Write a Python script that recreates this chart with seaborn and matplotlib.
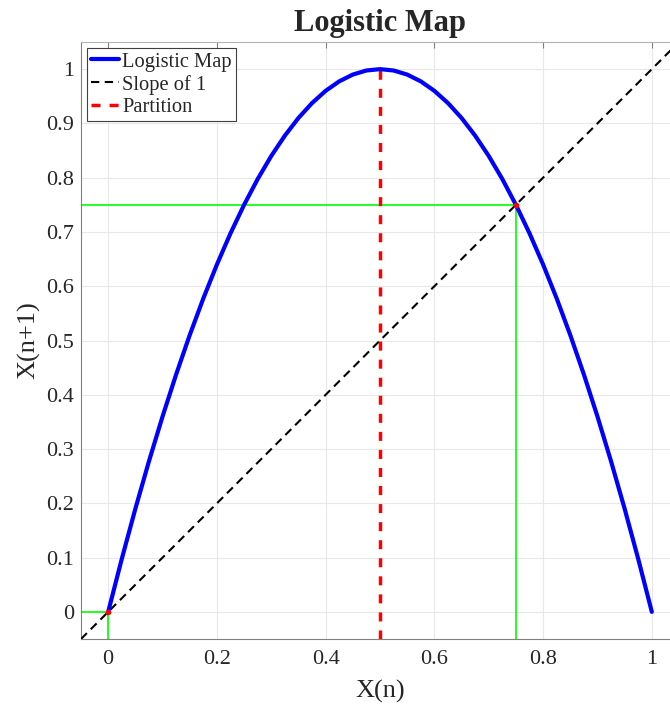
import matplotlib
matplotlib.use("Agg")
import matplotlib.pyplot as plt
import seaborn as sns
import pandas as pd
from matplotlib.ticker import FuncFormatter

# logistic map samples, x(n) and x(n+1)
x_n = [0.0, 0.025, 0.05, 0.075, 0.1, 0.125, 0.15, 0.175, 0.2, 0.225, 0.25,
       0.275, 0.3, 0.325, 0.35, 0.375, 0.4, 0.425, 0.45, 0.475, 0.5,
       0.525, 0.55, 0.575, 0.6, 0.625, 0.65, 0.675, 0.7, 0.725, 0.75,
       0.775, 0.8, 0.825, 0.85, 0.875, 0.9, 0.925, 0.95, 0.975, 1.0]
x_n1 = [0.0, 0.0975, 0.19, 0.2775, 0.36, 0.4375, 0.51, 0.5775, 0.64, 0.6975, 0.75,
        0.7975, 0.84, 0.8775, 0.91, 0.9375, 0.96, 0.9775, 0.99, 0.9975, 1.0,
        0.9975, 0.99, 0.9775, 0.96, 0.9375, 0.91, 0.8775, 0.84, 0.7975, 0.75,
        0.6975, 0.64, 0.5775, 0.51, 0.4375, 0.36, 0.2775, 0.19, 0.0975, 0.0]

diag_x = [-0.05, 1.05]
partition_x = [0.5, 0.5]
partition_y = [-0.05, 1.0]
fixed_pts = [0.0, 0.75]

xlim = (-0.05, 1.05)
ylim = (-0.05, 1.05)
xticks = [0, 0.2, 0.4, 0.6, 0.8, 1]
yticks = [0, 0.1, 0.2, 0.3, 0.4, 0.5, 0.6, 0.7, 0.8, 0.9, 1]

sns.set_style("white")
plt.rcParams["font.family"] = ["Liberation Serif", "DejaVu Serif"]

fig = plt.figure(figsize=(6.7, 7.07), dpi=100)
ax = fig.add_axes([81 / 670, 68 / 707, 598 / 670, 597 / 707])

df = pd.DataFrame({"x": x_n, "y": x_n1})
sns.lineplot(data=df, x="x", y="y", ax=ax, color="#0000ff", linewidth=3.0,
             label="Logistic Map", zorder=4)
ax.plot(diag_x, diag_x, color="black", linestyle=(0, (4, 2.6)), linewidth=1.5,
        label="Slope of 1", zorder=3)
ax.plot(partition_x, partition_y, color="#ff0000", linestyle=(0, (2.6, 2.6)),
        linewidth=2.5, label="Partition", zorder=3)

# cobweb guides at the fixed points
for p in fixed_pts:
    ax.plot([xlim[0], p], [p, p], color="#00ff00", linewidth=1.2, zorder=2)
    ax.plot([p, p], [ylim[0], p], color="#00ff00", linewidth=1.2, zorder=2)
    ax.plot([p], [p], marker="o", markersize=3, color="#ff0000", zorder=5)

ax.set_xlim(*xlim)
ax.set_ylim(*ylim)
ax.set_xticks(xticks)
ax.set_yticks(yticks)
fmt = FuncFormatter(lambda v, pos: "%g" % v)
ax.xaxis.set_major_formatter(fmt)
ax.yaxis.set_major_formatter(fmt)
ax.tick_params(direction="in", length=4, color="#808080", labelsize=16,
               labelcolor="#262626", top=True, right=True)
ax.tick_params(axis="x", pad=8)
ax.tick_params(axis="y", pad=5)
ax.grid(True, color="#e8e8e8", linewidth=0.8)
ax.set_axisbelow(True)
for side in ["left", "bottom"]:
    ax.spines[side].set_color("#808080")
for side in ["top", "right"]:
    ax.spines[side].set_color("#b4b4b4")

ax.set_xlabel("X(n)", fontsize=19, labelpad=8, color="#262626")
ax.set_ylabel("X(n+1)", fontsize=19, labelpad=4, color="#262626")
ax.set_title("Logistic Map", fontsize=22, fontweight="bold", pad=8)

leg = ax.legend(loc="upper left", fontsize=14.8, handlelength=1.35,
                handletextpad=0.15, borderpad=0.2, labelspacing=0.15,
                borderaxespad=0.3, fancybox=False, framealpha=1)
leg.get_frame().set_edgecolor("#404040")
leg.get_frame().set_linewidth(0.8)

fig.savefig("out.png", dpi=100)
